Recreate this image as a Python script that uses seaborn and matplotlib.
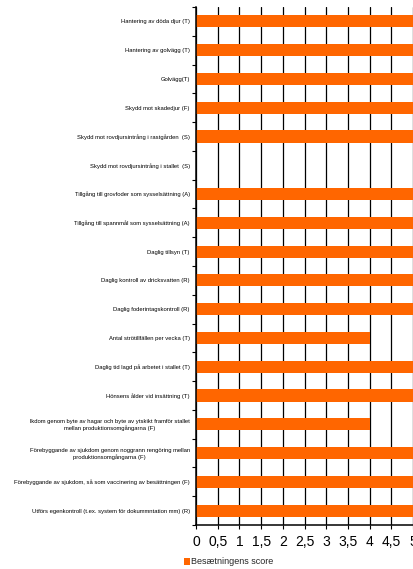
import matplotlib
matplotlib.use("Agg")
import matplotlib.pyplot as plt
from matplotlib.ticker import FixedLocator
from matplotlib.patches import Patch
import seaborn as sns
import pandas as pd

categories = [
    "Hantering av döda djur (T)",
    "Hantering av golvägg (T)",
    "Golvägg(T)",
    "Skydd mot skadedjur (F)",
    "Skydd mot rovdjursintrång i rastgården  (S)",
    "Skydd mot rovdjursintrång i stallet  (S)",
    "Tillgång till grovfoder som sysselsättning (A)",
    "Tillgång till spannmål som sysselsättning (A)",
    "Daglig tillsyn (T)",
    "Daglig kontroll av dricksvatten (R)",
    "Daglig foderintagskontroll (R)",
    "Antal strötillfällen per vecka (T)",
    "Daglig tid lagd på arbetet i stallet (T)",
    "Hönsens ålder vid insättning (T)",
    "lkdom genom byte av hagar och byte av ytskikt framför stallet\nmellan produktionsomgångarna (F)",
    "Förebyggande av sjukdom genom noggrann rengöring mellan\nproduktionsomgångarna (F)",
    "Förebyggande av sjukdom, så som vaccinering av besättningen (F)",
    "Utförs egenkontroll (t.ex. system för dokummntation mm) (R)",
]
scores = [5, 5, 5, 5, 5, 0, 5, 5, 5, 5, 5, 4, 5, 5, 4, 5, 5, 5]
x_ticks = [0, 0.5, 1, 1.5, 2, 2.5, 3, 3.5, 4, 4.5, 5]
x_tick_labels = ["0", "0,5", "1", "1,5", "2", "2,5", "3", "3,5", "4", "4,5", "5"]
series_name = "Besætningens score"
bar_color = "#FF6600"

df = pd.DataFrame({"kategori": categories, "score": scores})

sns.set_theme(style="white")
plt.rcParams["font.family"] = ["Liberation Sans", "DejaVu Sans"]

fig = plt.figure(figsize=(4.13, 5.69), dpi=100)
ax = fig.add_axes([196 / 413, 1 - 525 / 569, 217 / 413, (525 - 7) / 569])

sns.barplot(data=df, y="kategori", x="score", orient="h", color=bar_color,
            width=0.42, saturation=1, linewidth=0, edgecolor="none",
            ax=ax, zorder=3)

ax.set_xlim(0, 5)
ax.set_ylim(len(categories) - 0.5, -0.5)
ax.set_xlabel("")
ax.set_ylabel("")

ax.xaxis.set_major_locator(FixedLocator(x_ticks))
ax.set_xticklabels(x_tick_labels, fontsize=10)
ax.tick_params(axis="x", length=3, width=0.8, color="black", pad=4,
               bottom=True, labelcolor="black")
ax.grid(axis="x", color="black", linewidth=0.9, zorder=1)
ax.grid(axis="y", visible=False)

ax.set_yticks(range(len(categories)))
ax.set_yticklabels(categories, fontsize=4.2, multialignment="center")
ax.yaxis.set_minor_locator(FixedLocator([i + 0.5 for i in range(-1, len(categories))]))
ax.tick_params(axis="y", which="major", length=0, pad=4.5, labelcolor="black")
ax.tick_params(axis="y", which="minor", length=3, width=0.8, color="black", left=True)

for side in ["top", "right"]:
    ax.spines[side].set_visible(False)
for side in ["left", "bottom"]:
    ax.spines[side].set_color("black")
    ax.spines[side].set_linewidth(1.1)
    ax.spines[side].set_zorder(4)

handle = Patch(facecolor=bar_color, edgecolor="none")
fig.legend([handle], [series_name], loc="center left",
           bbox_to_anchor=(184 / 413, 1 - 562 / 569), frameon=False,
           fontsize=6.5, handlelength=0.7, handleheight=0.7, handletextpad=0.1,
           borderpad=0, borderaxespad=0)

fig.savefig("out.png", dpi=100)
